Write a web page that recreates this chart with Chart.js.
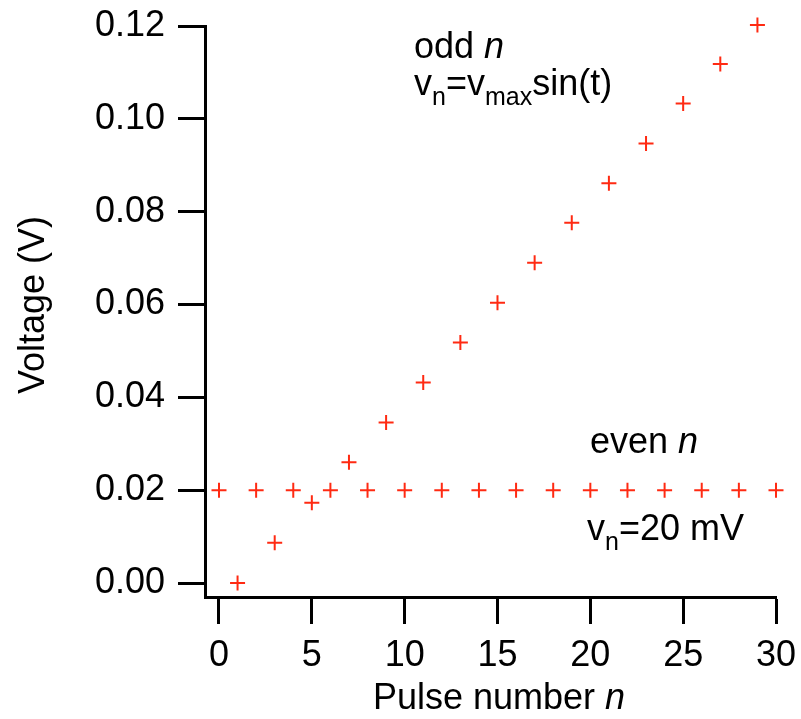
<!DOCTYPE html>
<html>
<head>
<meta charset="utf-8">
<script src="https://cdn.jsdelivr.net/npm/chart.js@4.4.1/dist/chart.umd.min.js"></script>
<style>
  html, body { margin: 0; padding: 0; background: #fff; }
  #wrap { width: 801px; height: 719px; position: relative; }
</style>
</head>
<body>
<div id="wrap"><canvas id="chart" width="801" height="719"></canvas></div>
<script>
// pulse numbers and read-off voltages (V)
const evenPulses = [0, 2, 4, 6, 8, 10, 12, 14, 16, 18, 20, 22, 24, 26, 28, 30];
const evenVolts = [0.02, 0.02, 0.02, 0.02, 0.02, 0.02, 0.02, 0.02, 0.02, 0.02, 0.02, 0.02, 0.02, 0.02, 0.02, 0.02];
const oddPulses = [1, 3, 5, 7, 9, 11, 13, 15, 17, 19, 21, 23, 25, 27, 29];
const oddVolts = [0.0, 0.0087, 0.0173, 0.026, 0.0346, 0.0432, 0.0518, 0.0604, 0.069, 0.0776, 0.0861, 0.0947, 0.1033, 0.1118, 0.1202];

const xTicks = [0, 5, 10, 15, 20, 25, 30];
const yTicks = [0, 0.02, 0.04, 0.06, 0.08, 0.10, 0.12];

const FONT = "'Liberation Sans', Arial, Helvetica, sans-serif";
const RED = "#ff2a12";
const SIZE = 36;

function points(xs, ys) {
  return xs.map((x, i) => ({ x, y: ys[i] }));
}

// labels may hang past the plot edges, the frame stays where it is
function noLabelPadding(scale) {
  scale.paddingTop = 0;
  scale.paddingBottom = 0;
  scale.paddingLeft = 0;
  scale.paddingRight = 0;
}

// write a run of [text, style] pieces: style "" normal, "i" italic, "s" subscript
function drawRuns(ctx, x, y, runs, size) {
  let cx = x;
  runs.forEach(([text, style]) => {
    const sub = style === "s";
    const px = sub ? Math.round(size * 0.7) : size;
    ctx.font = `${style === "i" ? "italic " : ""}${px}px ${FONT}`;
    ctx.fillText(text, cx, sub ? y + 10 : y);
    cx += ctx.measureText(text).width;
  });
}

const labelsPlugin = {
  id: "labels",
  afterDraw(chart) {
    const ctx = chart.ctx;
    ctx.save();
    ctx.fillStyle = "#000";
    ctx.textBaseline = "alphabetic";
    ctx.textAlign = "left";

    drawRuns(ctx, 414, 58, [["odd ", ""], ["n", "i"]], SIZE);
    drawRuns(ctx, 414, 95, [["v", ""], ["n", "s"], ["=v", ""], ["max", "s"], ["sin(t)", ""]], SIZE);
    drawRuns(ctx, 590, 453, [["even ", ""], ["n", "i"]], SIZE);
    drawRuns(ctx, 587, 540, [["v", ""], ["n", "s"], ["=20 mV", ""]], SIZE);

    // x axis title
    const t1 = "Pulse number ";
    ctx.font = `${SIZE}px ${FONT}`;
    const w1 = ctx.measureText(t1).width;
    ctx.font = `italic ${SIZE}px ${FONT}`;
    const w2 = ctx.measureText("n").width;
    drawRuns(ctx, 499 - (w1 + w2) / 2, 709, [[t1, ""], ["n", "i"]], SIZE);

    // y axis title
    ctx.translate(44, 305);
    ctx.rotate(-Math.PI / 2);
    ctx.textAlign = "center";
    ctx.font = `${SIZE}px ${FONT}`;
    ctx.fillText("Voltage (V)", 0, 0);
    ctx.restore();
  },
};

const markerStyle = {
  showLine: false,
  pointStyle: "cross",
  pointRadius: 7.5,
  pointHoverRadius: 7.5,
  pointBorderWidth: 2,
  borderColor: RED,
  backgroundColor: RED,
  clip: false,
};

new Chart(document.getElementById("chart").getContext("2d"), {
  type: "scatter",
  data: {
    datasets: [
      { label: "even n", data: points(evenPulses, evenVolts), ...markerStyle },
      { label: "odd n", data: points(oddPulses, oddVolts), ...markerStyle },
    ],
  },
  options: {
    responsive: false,
    animation: false,
    events: [],
    layout: { padding: { top: 26, right: 25, left: 0, bottom: 0 } },
    plugins: {
      legend: { display: false },
      tooltip: { enabled: false },
    },
    scales: {
      x: {
        type: "linear",
        min: -0.754,
        max: 30,
        afterBuildTicks: (scale) => { scale.ticks = xTicks.map((value) => ({ value })); },
        afterFit: (scale) => { scale.height = 122; noLabelPadding(scale); },
        ticks: {
          color: "#000",
          font: { family: FONT, size: SIZE },
          padding: 10,
          maxRotation: 0,
          autoSkip: false,
        },
        grid: {
          drawOnChartArea: false,
          drawTicks: true,
          tickLength: 27,
          tickWidth: 3,
          tickColor: "#000",
        },
        border: { display: true, color: "#000", width: 3 },
      },
      y: {
        type: "linear",
        min: -0.003,
        max: 0.12,
        afterBuildTicks: (scale) => { scale.ticks = yTicks.map((value) => ({ value })); },
        afterFit: (scale) => { scale.width = 205; noLabelPadding(scale); },
        ticks: {
          color: "#000",
          font: { family: FONT, size: SIZE },
          padding: 13,
          autoSkip: false,
          callback: (value) => Number(value).toFixed(2),
        },
        grid: {
          drawOnChartArea: false,
          drawTicks: true,
          tickLength: 27,
          tickWidth: 3,
          tickColor: "#000",
        },
        border: { display: true, color: "#000", width: 3 },
      },
    },
  },
  plugins: [labelsPlugin],
});
</script>
</body>
</html>
